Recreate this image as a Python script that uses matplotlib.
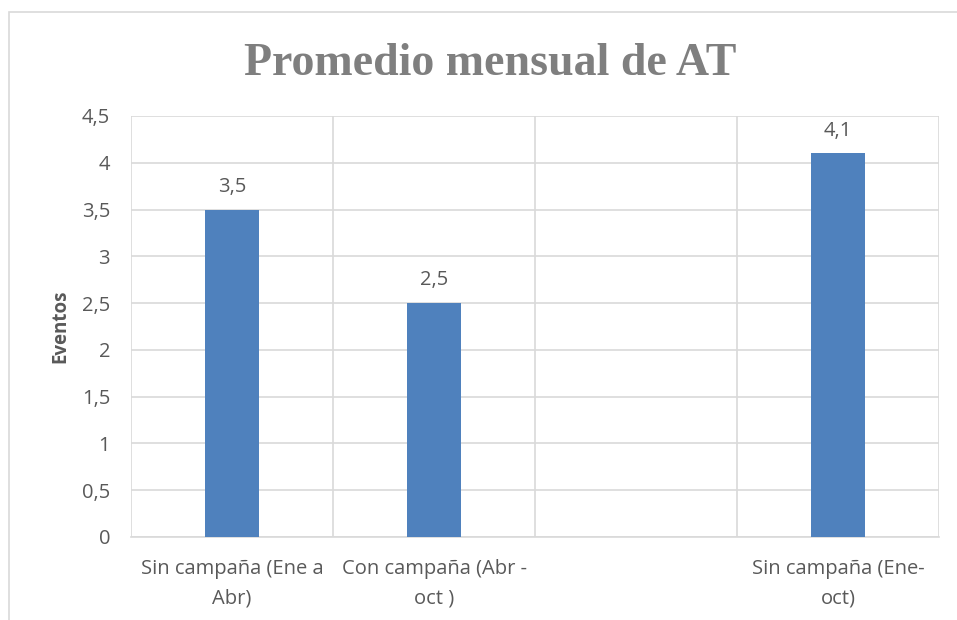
import matplotlib
matplotlib.use("Agg")
import matplotlib.pyplot as plt
from matplotlib.ticker import FixedLocator, FuncFormatter
from matplotlib.patches import Rectangle

categories = ["Sin campaña (Ene a\nAbr)", "Con campaña (Abr -\noct )", "", "Sin campaña (Ene-\noct)"]
values = [3.5, 2.5, None, 4.1]
labels = ["3,5", "2,5", "", "4,1"]
yticks = [0, 0.5, 1, 1.5, 2, 2.5, 3, 3.5, 4, 4.5]

plt.rcParams['font.family'] = ['Open Sans', 'DejaVu Sans']
txt = '#595959'
grid = '#d9d9d9'
fs = 14.5

fig = plt.figure(figsize=(9.57, 6.2), dpi=100)
fig.patches.append(Rectangle((9/957, -0.1), 1.2, 1 - 12/620 + 0.1, transform=fig.transFigure,
                             fill=False, edgecolor='#d9d9d9', linewidth=1.2))
ax = fig.add_axes([131/957, (620-537)/620, (939-131)/957, (537-116)/620])

x = list(range(len(categories)))
for i, v in enumerate(values):
    if v is None:
        continue
    ax.bar(i, v, width=0.27, color='#4f81bd', zorder=3)
    ax.text(i, v + 0.19, labels[i], ha='center', va='baseline', fontsize=fs, color=txt)

ax.set_xlim(-0.5, len(categories) - 0.5)
ax.set_ylim(0, 4.5)
ax.yaxis.set_major_locator(FixedLocator(yticks))
ax.yaxis.set_major_formatter(FuncFormatter(lambda v, p: f"{v:g}".replace('.', ',')))
ax.set_xticks(x)
ax.set_xticklabels(categories, fontsize=fs, color=txt, linespacing=1.6)
ax.xaxis.set_minor_locator(FixedLocator([i - 0.5 for i in range(len(categories) + 1)]))
ax.tick_params(axis='y', labelsize=fs, labelcolor=txt, length=0, pad=15)
ax.tick_params(axis='x', which='both', length=0, pad=16)
ax.grid(axis='y', which='major', color=grid, linewidth=1.2, zorder=0)
ax.grid(axis='x', which='minor', color=grid, linewidth=1.2, zorder=0)
for s in ['top', 'right']:
    ax.spines[s].set_visible(False)
ax.spines['left'].set_visible(False)
ax.spines['bottom'].set_color(grid)
ax.spines['bottom'].set_linewidth(1.2)

ax.set_ylabel('Eventos', fontsize=13.5, fontweight='bold', color=txt, labelpad=8)
fig.text(490/957, 1 - 64/620, 'Promedio mensual de AT', ha='center', va='center',
         fontsize=33, fontweight='bold', color='#7f7f7f', family='Liberation Serif')

fig.savefig('out.png', dpi=100)
